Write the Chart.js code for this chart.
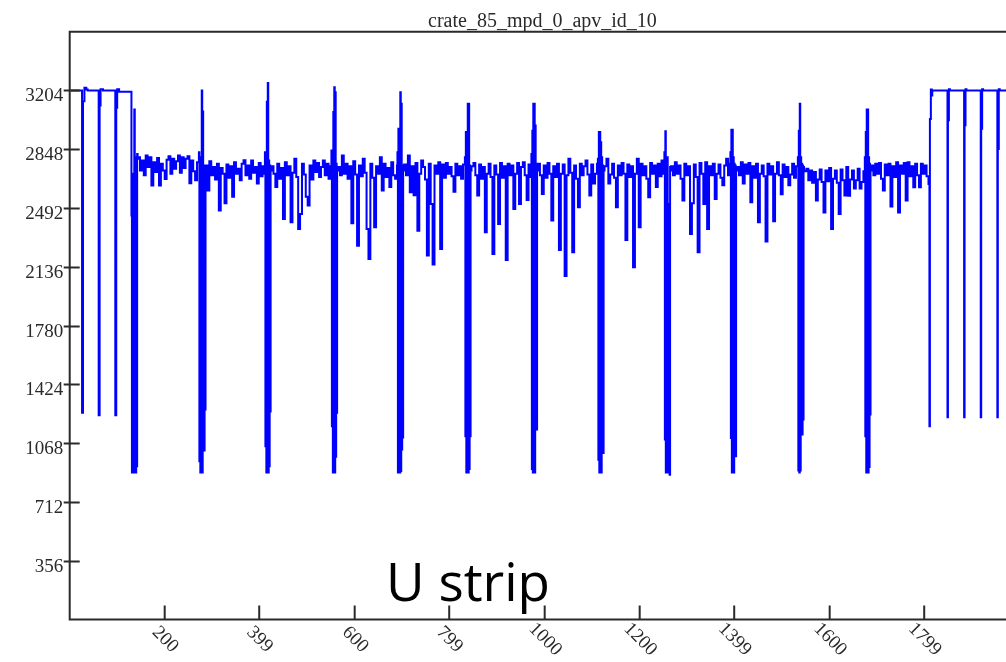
<!DOCTYPE html>
<html>
<head>
<meta charset="utf-8">
<title>crate_85_mpd_0_apv_id_10</title>
<script src="https://cdn.jsdelivr.net/npm/chart.js@4.4.1/dist/chart.umd.min.js"></script>
<style>
  html, body { margin: 0; padding: 0; background: #fff; overflow: hidden; }
  #wrap { width: 1030px; height: 662px; }
</style>
</head>
<body>
<div id="wrap"><canvas id="apvChart" width="1030" height="662"></canvas></div>
<script>
// Raw APV frame, time sample index vs ADC value

const chartTitle = 'crate_85_mpd_0_apv_id_10';
const overlayLabel = 'U strip';

const xTicks = [200, 399, 600, 799, 1000, 1200, 1399, 1600, 1799];
const yTicks = [356, 712, 1068, 1424, 1780, 2136, 2492, 2848, 3204];

// idle level with sync pulses before the first frame  [sample, adc]
const leadIdle = [
    [2, 3204], [26, 1252], [28, 3139], [31, 3220], [35, 3210], [38, 3204],
    [61, 1237], [63, 3113], [65, 3212], [70, 3204],
    [96, 1237], [98, 3100], [100, 3212], [104, 3196]
];

// first sample of every frame header
const headerStarts = [130, 272, 411, 551, 690, 832, 972, 1112, 1252, 1391, 1533, 1674];

// header samples (one per time sample)
const headerAdc = [
    [2447, 891, 2447, 900, 2700, 891, 3089, 905, 2760, 891, 2800, 928, 2820, 2790],
    [2830, 958, 2760, 891, 2800, 900, 3204, 891, 3077, 1023, 2750, 1023, 2720, 1272],
    [2830, 1049, 2760, 891, 3136, 900, 3249, 891, 2780, 928, 2750, 1260, 2740, 2720],
    [2840, 1170, 2760, 891, 3073, 985, 3224, 891, 3194, 985, 2760, 1252, 2740, 2720],
    [2830, 891, 2972, 1103, 2760, 891, 3194, 900, 3123, 1029, 2750, 1103, 2740, 2720],
    [2800, 1110, 2952, 891, 2760, 900, 3123, 891, 3123, 912, 2750, 1110, 2740, 2720],
    [2820, 912, 2960, 891, 3123, 900, 3123, 891, 2992, 1150, 2760, 1150, 2740, 2720],
    [2790, 968, 2952, 891, 2952, 900, 2890, 891, 2800, 1009, 2750, 1009, 2740, 2720],
    [2830, 1090, 2957, 891, 2760, 900, 2800, 891, 2517, 1120, 2517, 877, 2740, 2720],
    [2830, 1100, 2966, 891, 2966, 900, 2800, 891, 2760, 988, 2750, 988, 2740, 2720],
    [2800, 903, 2960, 891, 3123, 903, 2800, 1120, 2760, 1120, 2750, 1211, 2740, 2720],
    [2800, 1110, 2952, 891, 3089, 924, 3089, 891, 2800, 924, 2760, 1241, 2740, 2720]
];

// strip data after each header, read every 4th sample
const stripAdc = [
    [2800, 2720, 2780, 2690, 2810, 2740, 2800, 2628, 2770, 2710, 2795, 2628, 2760, 2720, 2668, 2785,
     2805, 2700, 2790, 2730, 2775, 2810, 2705, 2800, 2735, 2790, 2805, 2642, 2780, 2715, 2660, 2770],
    [2750, 2598, 2775, 2690, 2740, 2665, 2760, 2477, 2735, 2700, 2521, 2755, 2675, 2745, 2561, 2770,
     2700, 2730, 2660, 2760, 2782, 2690, 2750, 2670, 2780, 2705, 2740, 2640, 2765, 2685, 2745, 2700],
    [2745, 2700, 2620, 2760, 2670, 2735, 2426, 2770, 2690, 2745, 2406, 2705, 2790, 2680, 2365, 2456,
     2760, 2695, 2560, 2507, 2750, 2665, 2780, 2710, 2765, 2680, 2740, 2780, 2690, 2760, 2670, 2745],
    [2740, 2690, 2810, 2700, 2760, 2670, 2745, 2400, 2775, 2695, 2264, 2750, 2685, 2790, 2705, 2365,
     2183, 2760, 2675, 2375, 2745, 2700, 2800, 2598, 2760, 2680, 2735, 2620, 2770, 2690, 2670, 2750],
    [2755, 2690, 2810, 2588, 2745, 2570, 2765, 2355, 2700, 2780, 2740, 2665, 2204, 2760, 2517, 2150,
     2750, 2700, 2770, 2244, 2755, 2675, 2765, 2700, 2740, 2685, 2590, 2760, 2690, 2745, 2670, 2755],
    [2745, 2765, 2690, 2568, 2755, 2670, 2740, 2345, 2700, 2760, 2680, 2213, 2750, 2695, 2396, 2765,
     2675, 2745, 2177, 2760, 2690, 2750, 2486, 2700, 2765, 2517, 2740, 2769, 2690, 2540, 2755, 2680],
    [2760, 2690, 2577, 2750, 2675, 2765, 2700, 2416, 2745, 2680, 2760, 2238, 2700, 2755, 2080, 2690,
     2790, 2705, 2224, 2750, 2670, 2497, 2760, 2690, 2745, 2780, 2695, 2568, 2755, 2640, 2700, 2760],
    [2745, 2790, 2640, 2695, 2760, 2675, 2497, 2750, 2690, 2765, 2700, 2298, 2755, 2680, 2745, 2133,
     2700, 2790, 2375, 2760, 2690, 2745, 2670, 2557, 2765, 2700, 2750, 2620, 2760, 2685, 2780, 2700],
    [2745, 2690, 2770, 2700, 2750, 2670, 2537, 2760, 2690, 2745, 2335, 2521, 2755, 2680, 2224, 2765,
     2700, 2517, 2770, 2365, 2745, 2690, 2760, 2547, 2700, 2755, 2675, 2630, 2750, 2790, 2690, 2760],
    [2740, 2690, 2770, 2640, 2755, 2700, 2765, 2527, 2745, 2675, 2760, 2406, 2700, 2750, 2685, 2289,
     2760, 2695, 2745, 2412, 2700, 2770, 2690, 2575, 2755, 2680, 2740, 2630, 2695, 2760, 2675, 2745],
    [2715, 2730, 2660, 2720, 2645, 2710, 2537, 2665, 2725, 2650, 2465, 2720, 2655, 2735, 2365, 2670,
     2720, 2645, 2456, 2725, 2660, 2568, 2740, 2567, 2665, 2720, 2610, 2660, 2730, 2610, 2650, 2715],
    [2750, 2690, 2760, 2700, 2765, 2670, 2598, 2755, 2690, 2760, 2501, 2745, 2680, 2770, 2465, 2750,
     2700, 2765, 2537, 2770, 2685, 2745, 2618, 2760, 2690, 2618, 2760, 2700, 2750, 2685, 2638]
];

// idle level with sync pulses after the last frame  [sample, adc]
const tailIdle = [
    [1810, 1170], [1811, 3032], [1813, 3210], [1815, 3174], [1816, 3204],
    [1848, 1225], [1849, 3023], [1851, 3212], [1853, 3204],
    [1883, 1225], [1884, 2993], [1886, 3212], [1888, 3204],
    [1918, 1225], [1919, 2972], [1921, 3212], [1923, 3204],
    [1953, 1225], [1954, 2850], [1956, 3212], [1958, 3204], [1999, 3204]
];

const HEADER_LEN = 14;
const STRIP_STEP = 4;

/**
 * Put the pieces of the frame together as {x, y} points
 * @returns {Array<{x: number, y: number}>}
 */
function buildTrace() {
    const points = leadIdle.map(([x, y]) => ({ x, y }));
    headerStarts.forEach((start, f) => {
        headerAdc[f].forEach((y, i) => points.push({ x: start + i, y }));
        stripAdc[f].forEach((y, k) => points.push({ x: start + HEADER_LEN + k * STRIP_STEP, y }));
    });
    tailIdle.forEach(([x, y]) => points.push({ x, y }));
    return points;
}

const SERIF = '"Liberation Serif", "DejaVu Serif", serif';

// frame, ticks, tick labels, title and overlay text
const frameDecor = {
    id: 'frameDecor',
    afterDraw(chart) {
        const { ctx, chartArea: a } = chart;
        const x = chart.scales.x;
        const y = chart.scales.y;
        ctx.save();
        ctx.strokeStyle = '#2a2a2a';
        ctx.lineWidth = 2;
        ctx.beginPath();
        ctx.moveTo(a.right, a.top);
        ctx.lineTo(a.left, a.top);
        ctx.lineTo(a.left, a.bottom);
        ctx.lineTo(a.right, a.bottom);
        ctx.stroke();

        ctx.fillStyle = '#2a2a2a';
        ctx.font = '19px ' + SERIF;

        // y ticks cross the axis
        ctx.textAlign = 'right';
        ctx.textBaseline = 'alphabetic';
        yTicks.forEach((v) => {
            const py = Math.round(y.getPixelForValue(v)) + 0.5;
            ctx.beginPath();
            ctx.moveTo(a.left - 6, py);
            ctx.lineTo(a.left + 10, py);
            ctx.stroke();
            ctx.fillText(String(v), a.left - 6.5, py + 10.5);
        });

        // x ticks point inwards, labels turned down
        ctx.textAlign = 'center';
        ctx.textBaseline = 'middle';
        xTicks.forEach((v) => {
            const px = x.getPixelForValue(v);
            ctx.beginPath();
            ctx.moveTo(px, a.bottom);
            ctx.lineTo(px, a.bottom - 14);
            ctx.stroke();
            ctx.save();
            ctx.translate(px + 0.5, a.bottom + 20);
            ctx.rotate(Math.PI / 4);
            ctx.fillText(String(v), 0, 0);
            ctx.restore();
        });

        ctx.font = '20px ' + SERIF;
        ctx.textAlign = 'center';
        ctx.textBaseline = 'alphabetic';
        ctx.fillText(chartTitle, (a.left + a.right) / 2 - 2, 27);

        ctx.fillStyle = '#000';
        ctx.font = '53px "Open Sans", "Noto Sans", sans-serif';
        ctx.textAlign = 'left';
        ctx.fillText(overlayLabel, 386, 601);
        ctx.restore();
    }
};

function renderChart() {
    const canvas = document.getElementById('apvChart');
    new Chart(canvas, {
        type: 'line',
        data: {
            datasets: [{
                data: buildTrace(),
                borderColor: '#0000ff',
                borderWidth: 2,
                pointRadius: 0,
                stepped: true,
                fill: false
            }]
        },
        options: {
            responsive: false,
            animation: false,
            devicePixelRatio: 1,
            parsing: false,
            layout: { padding: { left: 69.7, top: 31.7, right: 10.8, bottom: 42.5 } },
            scales: {
                x: { type: 'linear', min: 0, max: 1999, display: false },
                y: { type: 'linear', min: 0, max: 3560, display: false }
            },
            plugins: {
                legend: { display: false },
                tooltip: { enabled: false }
            }
        },
        plugins: [frameDecor]
    });
}

renderChart();
</script>
</body>
</html>
